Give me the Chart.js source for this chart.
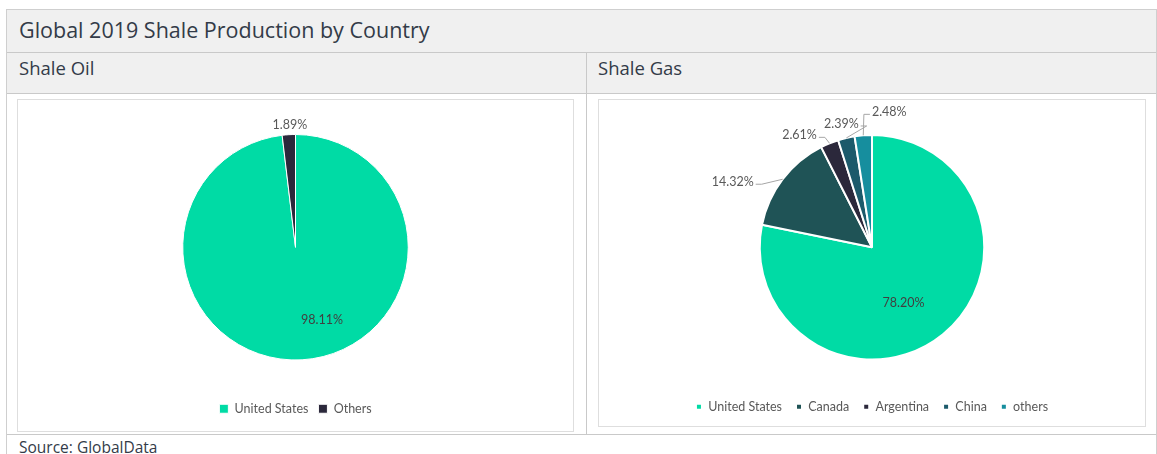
<!DOCTYPE html>
<html>
    <head>
        <title>shale</title>
        <meta charset="UTF-8">
        <script src="https://cdn.jsdelivr.net/npm/chart.js"></script>
        <style>
            body {margin:0; background:#fff; font-family:"Open Sans", sans-serif; color:#333b48;}
            .abs {position:absolute; box-sizing:border-box;}
            .frame {left:6px; top:9px; width:1151px; height:460px; border:1px solid #cfcfcf;}
            .bar {background:#f0f0f0; border-bottom:1px solid #c9c9c9;}
            .box {border:1px solid #dedede; background:#fff;}
        </style>
    </head>
    <body>
        <div class="abs frame"></div>
        <div class="abs bar" style="left:7px;top:10px;width:1149px;height:43px;"></div>
        <div class="abs" style="left:19px;top:15px;font-size:21.5px;">Global 2019 Shale Production by Country</div>
        <div class="abs bar" style="left:7px;top:53px;width:1149px;height:41px;"></div>
        <div class="abs" style="left:19px;top:55px;font-size:18.5px;">Shale Oil</div>
        <div class="abs" style="left:598px;top:55px;font-size:18.5px;">Shale Gas</div>
        <div class="abs" style="left:586px;top:53px;width:1px;height:382px;background:#c9c9c9;"></div>
        <div class="abs" style="left:7px;top:434px;width:1149px;height:1px;background:#c9c9c9;"></div>
        <div class="abs" style="left:19px;top:436px;font-size:15.5px;">Source: GlobalData</div>

        <div class="abs box" style="left:17px;top:99px;width:557px;height:333px;">
            <div style="position:relative;width:555px;height:331px;"><canvas id="oilChart"></canvas></div>
        </div>
        <div class="abs box" style="left:598px;top:99px;width:548px;height:328px;">
            <div style="position:relative;width:546px;height:326px;"><canvas id="gasChart"></canvas></div>
        </div>
    </body>
    <script>
      // data (share of 2019 production, %)
      const oilLabels = ['United States', 'Others'];
      const oilValues = [98.11, 1.89];
      const oilColors = ['#00dba5', '#2b283b'];

      const gasLabels = ['United States', 'Canada', 'Argentina', 'China', 'others'];
      const gasValues = [78.20, 14.32, 2.61, 2.39, 2.48];
      const gasColors = ['#00dba5', '#1f5356', '#2b283b', '#1c5a6b', '#168e9e'];

      Chart.defaults.font.family = 'Lato, "Open Sans", sans-serif';
      Chart.defaults.color = '#595959';

      // draws the percentage labels (and leader lines) next to each slice
      const sliceLabels = {
        id: 'sliceLabels',
        afterDatasetsDraw(chart, args, opts) {
          const ctx = chart.ctx;
          const meta = chart.getDatasetMeta(0);
          const vals = chart.data.datasets[0].data;
          const total = vals.reduce((a, b) => a + b, 0);
          ctx.save();
          ctx.font = '12.5px Lato, "Open Sans", sans-serif';
          ctx.textAlign = 'center';
          ctx.textBaseline = 'middle';
          meta.data.forEach((arc, i) => {
            const p = arc.getProps(['x', 'y', 'startAngle', 'endAngle', 'outerRadius'], true);
            const mid = (p.startAngle + p.endAngle) / 2;
            const txt = (vals[i] / total * 100).toFixed(2) + '%';
            const o = opts.pos[i];
            if (o.frac) {
              const lx = p.x + Math.cos(mid) * p.outerRadius * o.frac + (o.dx || 0);
              const ly = p.y + Math.sin(mid) * p.outerRadius * o.frac + (o.dy || 0);
              ctx.fillStyle = '#404040';
              ctx.fillText(txt, lx, ly);
              return;
            }
            const ex = p.x + Math.cos(mid) * p.outerRadius;
            const ey = p.y + Math.sin(mid) * p.outerRadius;
            const lx = ex + o.dx, ly = ey + o.dy;
            const w = ctx.measureText(txt).width;
            if (o.line) {
              const side = lx < ex ? lx + w / 2 + 2 : lx - w / 2 - 2;
              const knee = lx < ex ? side + 6 : side - 6;
              ctx.strokeStyle = '#a6a6a6';
              ctx.lineWidth = 1;
              ctx.beginPath();
              ctx.moveTo(side, ly + 2);
              ctx.lineTo(knee, ly + 2);
              ctx.lineTo(ex, ey);
              ctx.stroke();
            }
            ctx.fillStyle = '#595959';
            ctx.fillText(txt, lx, ly);
          });
          ctx.restore();
        }
      };

      function legendOpts(box, gap, pad) {
        return {
          position: 'bottom',
          title: {display: true, text: ' ', font: {size: 10, lineHeight: 1}, padding: {top: gap, bottom: 0}},
          labels: {boxWidth: box, boxHeight: box, padding: pad, font: {size: 12.5}, color: '#595959'}
        };
      }

      new Chart(document.getElementById('oilChart'), {
        type: 'pie',
        data: {
          labels: oilLabels,
          datasets: [{data: oilValues, backgroundColor: oilColors, borderColor: '#fff', borderWidth: 1}]
        },
        options: {
          responsive: true,
          maintainAspectRatio: false,
          animation: false,
          layout: {padding: {top: 34, bottom: 6}},
          plugins: {
            legend: legendOpts(9, 22, 10),
            tooltip: {enabled: false},
            sliceLabels: {pos: [{frac: 0.68, dx: 22, dy: -4}, {dx: 1, dy: -10, line: false}]}
          }
        },
        plugins: [sliceLabels]
      });

      new Chart(document.getElementById('gasChart'), {
        type: 'pie',
        data: {
          labels: gasLabels,
          datasets: [{data: gasValues, backgroundColor: gasColors, borderColor: '#fff', borderWidth: 2}]
        },
        options: {
          responsive: true,
          maintainAspectRatio: false,
          animation: false,
          layout: {padding: {top: 34, bottom: 3}},
          plugins: {
            legend: legendOpts(6, 16, 14),
            tooltip: {enabled: false},
            sliceLabels: {pos: [
              {frac: 0.57, dx: -9, dy: 6},
              {dx: -50, dy: 3, line: true},
              {dx: -30, dy: -8, line: true},
              {dx: -5, dy: -14, line: true},
              {dx: 26, dy: -23, line: true}
            ]}
          }
        },
        plugins: [sliceLabels]
      });
    </script>
</html>
